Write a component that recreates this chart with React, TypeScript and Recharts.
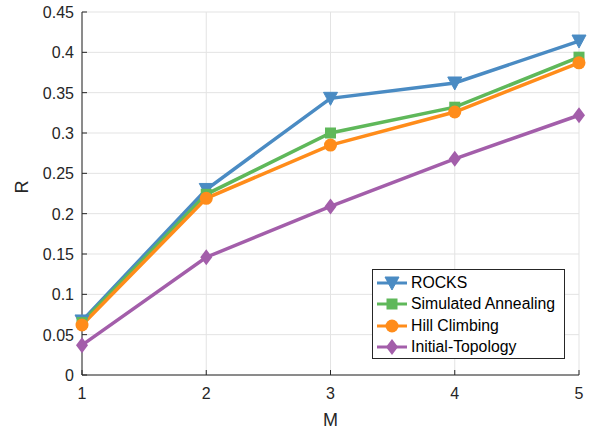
import React from 'react';
import { LineChart, Line, XAxis, YAxis, CartesianGrid, Legend } from 'recharts';

const M = [1, 2, 3, 4, 5];
const rocks = [0.067, 0.23, 0.343, 0.362, 0.414];
const simAnneal = [0.065, 0.224, 0.3, 0.332, 0.394];
const hillClimb = [0.062, 0.219, 0.285, 0.326, 0.387];
const initTopo = [0.037, 0.146, 0.209, 0.268, 0.322];
const yTicks = [0, 0.05, 0.1, 0.15, 0.2, 0.25, 0.3, 0.35, 0.4, 0.45];
const xTicks = [1, 2, 3, 4, 5];

const data = M.map((m, i) => ({
  M: m,
  rocks: rocks[i],
  sa: simAnneal[i],
  hc: hillClimb[i],
  it: initTopo[i],
}));

const C = {
  rocks: '#4a8bc3',
  sa: '#5fb85a',
  hc: '#ff8c1a',
  it: '#a35eaa',
};
const AX = '#262626';
const FONT = 'Liberation Sans, Arial, sans-serif';

const TriDown = ({ cx, cy, color }: any) =>
  cx == null ? null : (
    <polygon points={`${cx - 7},${cy - 6} ${cx + 7},${cy - 6} ${cx},${cy + 7}`} fill={color} stroke={color} />
  );
const Square = ({ cx, cy, color }: any) =>
  cx == null ? null : <rect x={cx - 5.5} y={cy - 5.5} width={11} height={11} fill={color} />;
const Circ = ({ cx, cy, color }: any) =>
  cx == null ? null : <circle cx={cx} cy={cy} r={6.5} fill={color} />;
const Diamond = ({ cx, cy, color }: any) =>
  cx == null ? null : (
    <polygon points={`${cx},${cy - 8} ${cx + 6},${cy} ${cx},${cy + 8} ${cx - 6},${cy}`} fill={color} />
  );

const series = [
  { key: 'rocks', name: 'ROCKS', color: C.rocks, Shape: TriDown },
  { key: 'sa', name: 'Simulated Annealing', color: C.sa, Shape: Square },
  { key: 'hc', name: 'Hill Climbing', color: C.hc, Shape: Circ },
  { key: 'it', name: 'Initial-Topology', color: C.it, Shape: Diamond },
];

const XTick = ({ x, y, payload }: any) => (
  <g>
    <line x1={x} x2={x} y1={y} y2={y - 5} stroke={AX} />
    <text x={x} y={y + 24} textAnchor="middle" fill={AX} fontSize={16} fontFamily={FONT}>
      {payload.value}
    </text>
  </g>
);
const XTopTick = ({ x, y }: any) => <line x1={x} x2={x} y1={y} y2={y + 5} stroke={AX} />;
const YTick = ({ x, y, payload }: any) => (
  <g>
    <line x1={x} x2={x + 5} y1={y} y2={y} stroke={AX} />
    <text x={x - 8} y={y + 6} textAnchor="end" fill={AX} fontSize={16} fontFamily={FONT}>
      {payload.value}
    </text>
  </g>
);
const YRightTick = ({ x, y }: any) => <line x1={x} x2={x - 5} y1={y} y2={y} stroke={AX} />;

const LegendBox = () => (
  <div
    style={{
      border: '1px solid #262626',
      background: '#fff',
      width: 191,
      height: 86,
      boxSizing: 'content-box',
      fontFamily: FONT,
      fontSize: 15.8,
      color: '#000',
      paddingTop: 2,
      textAlign: 'left',
    }}
  >
    {series.map((s) => (
      <div key={s.key} style={{ display: 'flex', alignItems: 'center', height: 21.5 }}>
        <svg width={38} height={22} style={{ display: 'block' }}>
          <line x1={4} x2={34} y1={11} y2={11} stroke={s.color} strokeWidth={3} />
          <s.Shape cx={19} cy={11} color={s.color} />
        </svg>
        <span style={{ whiteSpace: 'nowrap' }}>{s.name}</span>
      </div>
    ))}
  </div>
);

export default function App() {
  return (
    <div style={{ position: 'absolute', left: 0, top: 0, background: '#fff' }}>
      <LineChart width={592} height={434} data={data} margin={{ top: 12, right: 13, bottom: 0, left: 0 }}>
        <CartesianGrid stroke="#e3e3e3" strokeWidth={1} />
        <XAxis
          dataKey="M"
          type="number"
          domain={[1, 5]}
          ticks={xTicks}
          height={59}
          stroke={AX}
          tickSize={0}
          tickMargin={0}
          tick={<XTick />}
          label={{ value: 'M', position: 'insideBottom', offset: 8, fill: AX, fontSize: 18, fontFamily: FONT }}
        />
        <XAxis
          xAxisId="top"
          dataKey="M"
          type="number"
          orientation="top"
          domain={[1, 5]}
          ticks={xTicks}
          height={0}
          stroke={AX}
          tickSize={0}
          tickMargin={0}
          tick={<XTopTick />}
        />
        <YAxis
          type="number"
          domain={[0, 0.45]}
          ticks={yTicks}
          width={82}
          stroke={AX}
          tickSize={0}
          tickMargin={0}
          tick={<YTick />}
          label={{ value: 'R', angle: -90, position: 'insideLeft', offset: 22, fill: AX, fontSize: 18, fontFamily: FONT }}
        />
        <YAxis
          yAxisId="right"
          orientation="right"
          type="number"
          domain={[0, 0.45]}
          ticks={yTicks}
          width={0}
          stroke={AX}
          tickSize={0}
          tickMargin={0}
          tick={<YRightTick />}
        />
        {series.map((s) => (
          <Line
            key={s.key}
            dataKey={s.key}
            name={s.name}
            stroke={s.color}
            strokeWidth={3.5}
            isAnimationActive={false}
            dot={(p: any) => <s.Shape key={`${s.key}-${p.index}`} cx={p.cx} cy={p.cy} color={s.color} />}
            activeDot={false}
          />
        ))}
        <Legend
          layout="horizontal"
          verticalAlign="middle"
          align="center"
          content={<LegendBox />}
          wrapperStyle={{ position: 'absolute', left: 372, top: 269, width: 193, height: 90 }}
        />
      </LineChart>
    </div>
  );
}
